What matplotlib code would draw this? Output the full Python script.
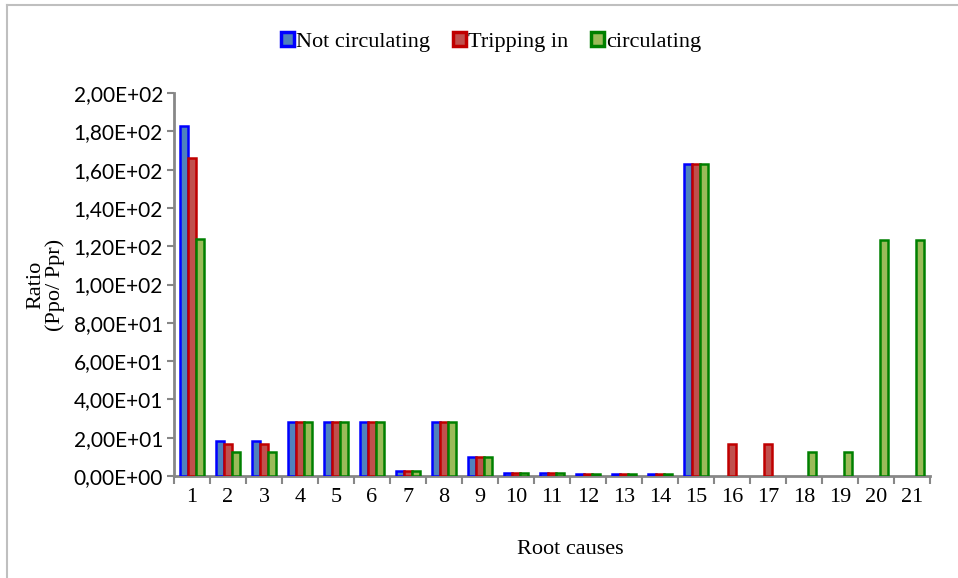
import matplotlib
matplotlib.use("Agg")
import matplotlib.pyplot as plt
from matplotlib.lines import Line2D
import numpy as np
from matplotlib.ticker import FuncFormatter

plt.rcParams['font.family'] = ['Liberation Serif', 'DejaVu Serif']

categories = [str(i) for i in range(1, 22)]
not_circulating = [183, 18.3, 18.3, 28, 28, 28, 2.5, 28, 9.8, 1.5, 1.5, 0.8, 0.8, 0.8, 163, 0, 0, 0, 0, 0, 0]
tripping_in = [166, 16.7, 16.7, 28, 28, 28, 2.5, 28, 9.8, 1.5, 1.5, 0.8, 0.8, 0.8, 163, 16.7, 16.7, 0, 0, 0, 0]
circulating = [124, 12.5, 12.5, 28, 28, 28, 2.5, 28, 9.8, 1.5, 1.5, 0.8, 0.8, 0.8, 163, 0, 0, 12.5, 12.5, 123, 123]

fig = plt.figure(figsize=(9.58, 5.78), dpi=100)
# outer chart border (only left and top visible in the crop)
fig.add_artist(Line2D([7/958, 7/958], [0, 1 - 5/578], transform=fig.transFigure, color='#BFBFBF', lw=1.5))
fig.add_artist(Line2D([7/958, 1], [1 - 5/578, 1 - 5/578], transform=fig.transFigure, color='#BFBFBF', lw=1.5))

ax = fig.add_axes([174/958, 1-476/578, (930-174)/958, (476-93)/578])

x = np.arange(1, 22)
w = 0.22
series = [
    (not_circulating, 'Not circulating', '#4F81BD', '#0000FF'),
    (tripping_in, 'Tripping in', '#C0504D', '#C00000'),
    (circulating, 'circulating', '#9BBB59', '#008000'),
]
for i, (vals, lab, fc, ec) in enumerate(series):
    v = np.array(vals, dtype=float)
    mask = v > 0
    ax.bar(x[mask] + (i - 1) * w, v[mask], width=w, color=fc, edgecolor=ec, linewidth=1.8, label=lab, zorder=3)

ax.set_xlim(0.5, 21.5)
ax.set_ylim(0, 200)
ax.set_yticks(np.arange(0, 201, 20))

def fmt(v, pos):
    if v == 0:
        return '0,00E+00'
    e = int(np.floor(np.log10(abs(v))))
    m = v / 10**e
    return f"{m:.2f}".replace('.', ',') + f"E+{e:02d}"
ax.yaxis.set_major_formatter(FuncFormatter(fmt))

FS = 16
ax.set_xticks(x)
ax.set_xticklabels(categories)
ax.set_xticks(np.arange(0.5, 21.6, 1), minor=True)
ax.tick_params(axis='x', which='major', length=0, labelsize=FS, pad=9)
ax.tick_params(axis='x', which='minor', length=6, width=1.5, color='#878787', direction='out')
ax.tick_params(axis='y', length=5, width=1.5, color='#878787', labelsize=15, direction='out', pad=3)
for t in ax.get_yticklabels():
    t.set_fontfamily(['Lato', 'DejaVu Sans'])

for s in ['top', 'right']:
    ax.spines[s].set_visible(False)
for s in ['left', 'bottom']:
    ax.spines[s].set_color('#878787')
    ax.spines[s].set_linewidth(2)

ax.set_ylabel('Ratio\n(Ppo/ Ppr)', fontsize=FS, labelpad=6, linespacing=1.0)
fig.text(570/958, 1 - 550/578, 'Root causes', ha='center', va='center', fontsize=FS)

leg = ax.legend(loc='center', bbox_to_anchor=(491/958, (578-42)/578), bbox_transform=fig.transFigure,
                ncol=3, frameon=False, fontsize=FS, handlelength=0.6, handleheight=0.6,
                handletextpad=0.1, columnspacing=1.0)
for h in leg.legend_handles:
    h.set_linewidth(2.5)

fig.savefig('out.png', dpi=100)
